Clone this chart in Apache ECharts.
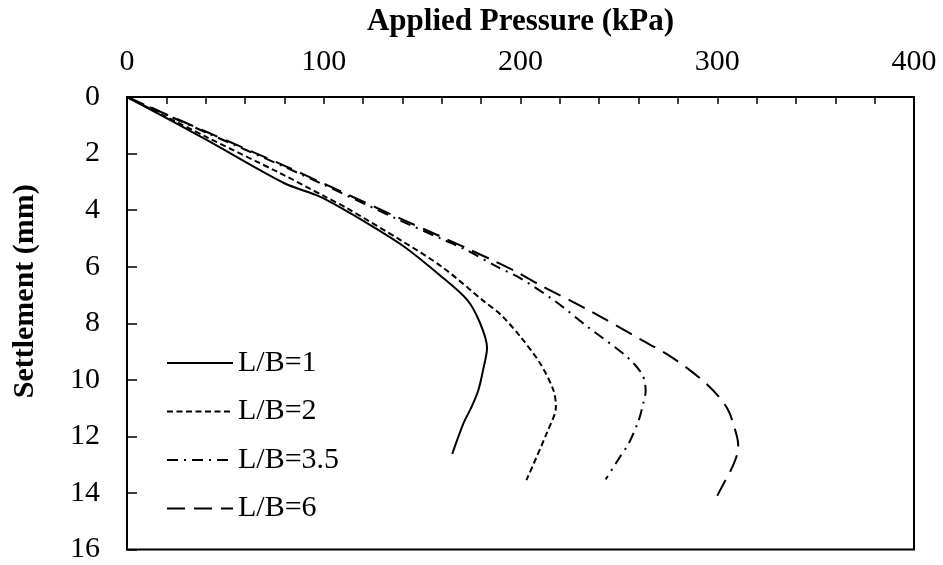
<!DOCTYPE html>
<html>
<head>
<meta charset="utf-8">
<script src="https://cdn.jsdelivr.net/npm/echarts@6/dist/echarts.min.js"></script>
<style>
html,body{margin:0;padding:0;background:#fff;}
#chart{width:943px;height:565px;}
</style>
</head>
<body>
<div id="chart"></div>
<script>
// Applied pressure (kPa) and settlement (mm) for each L/B ratio
var seriesNames = ['L/B=1', 'L/B=2', 'L/B=3.5', 'L/B=6'];

var pressure1 = [0, 40, 80, 98, 115, 140, 159, 173, 179.5, 183, 181, 178.6, 175.2, 171, 165.3];
var settle1   = [0, 1.5, 3.05, 3.52, 4.17, 5.25, 6.3, 7.18, 8.0, 8.87, 9.65, 10.36, 10.95, 11.54, 12.62];

var pressure2 = [0, 40, 78, 100, 112, 139, 160, 181, 190, 200, 210, 216.7, 218, 213.3, 203];
var settle2   = [0, 1.4, 2.7, 3.5, 3.94, 5.06, 6.0, 7.2, 7.7, 8.48, 9.42, 10.36, 10.95, 11.89, 13.55];

var pressure3 = [0, 40, 81, 98, 139, 159, 173, 188, 200, 218, 234, 254, 262, 263.6, 262.4, 260, 255, 250.6, 243.3];
var settle3   = [0, 1.25, 2.5, 3.04, 4.37, 4.99, 5.43, 6.0, 6.41, 7.24, 8.12, 9.18, 9.83, 10.4, 10.83, 11.45, 12.25, 12.72, 13.52];

var pressure4 = [0, 40, 81, 98, 139, 159, 173, 186, 197, 210, 235, 261, 277.7, 294.6, 305, 310, 310.7, 308.2, 303, 298];
var settle4   = [0, 1.22, 2.46, 3.0, 4.3, 4.92, 5.36, 5.78, 6.15, 6.65, 7.55, 8.57, 9.24, 10.15, 11.0, 12.0, 12.4, 13.0, 13.7, 14.37];

var xTicks = [0, 100, 200, 300, 400];
var yTicks = [0, 2, 4, 6, 8, 10, 12, 14, 16];

function pairs(xs, ys) {
  return xs.map(function (x, i) { return [x, ys[i]]; });
}

var FONT = 'Liberation Serif';
var chart = echarts.init(document.getElementById('chart'));

var dashTypes = ['solid', [6, 3.5], [11, 6, 2, 6], [18, 9]];
var datasets = [pairs(pressure1, settle1), pairs(pressure2, settle2), pairs(pressure3, settle3), pairs(pressure4, settle4)];

chart.setOption({
  animation: false,
  backgroundColor: '#fff',
  grid: {
    left: 127, right: 29, top: 97, bottom: 15.5,
    show: true, borderColor: '#000', borderWidth: 2, backgroundColor: 'transparent'
  },
  legend: {
    orient: 'vertical',
    left: 166, top: 348, padding: 0,
    itemWidth: 66, itemHeight: 20, itemGap: 18.5,
    data: seriesNames,
    itemStyle: { color: 'transparent', borderColor: 'transparent', borderWidth: 0, opacity: 0 },
    textStyle: { fontFamily: FONT, fontSize: 30, color: '#000', lineHeight: 30 }
  },
  xAxis: {
    type: 'value', position: 'top',
    min: xTicks[0], max: xTicks[xTicks.length - 1], interval: 100,
    name: 'Applied Pressure (kPa)', nameLocation: 'middle', nameGap: 60,
    nameTextStyle: { fontFamily: FONT, fontSize: 31, fontWeight: 'bold', color: '#000' },
    axisLine: { show: true, lineStyle: { color: '#000', width: 2 } },
    axisTick: { show: true, inside: true, length: 7, lineStyle: { color: '#000', width: 1.5 } },
    minorTick: { show: true, splitNumber: 5, length: 7, lineStyle: { color: '#000', width: 1.5 } },
    axisLabel: { fontFamily: FONT, fontSize: 30, color: '#000', margin: 20 },
    splitLine: { show: false }
  },
  yAxis: {
    type: 'value', inverse: true,
    min: yTicks[0], max: yTicks[yTicks.length - 1], interval: 2,
    name: 'Settlement (mm)', nameLocation: 'middle', nameGap: 87,
    nameTextStyle: { fontFamily: FONT, fontSize: 30, fontWeight: 'bold', color: '#000', padding: [0, 0, 0, 64] },
    axisLine: { show: true, lineStyle: { color: '#000', width: 2 } },
    axisTick: { show: true, inside: true, length: 10, lineStyle: { color: '#000', width: 1.5 } },
    axisLabel: { fontFamily: FONT, fontSize: 30, color: '#000', margin: 27 },
    splitLine: { show: false }
  },
  series: seriesNames.map(function (n, i) {
    return {
      name: n, type: 'line', data: datasets[i],
      showSymbol: false, symbol: 'none', smooth: 0.3,
      lineStyle: { color: '#000', width: 2, type: dashTypes[i] },
      itemStyle: { color: '#000' }
    };
  })
});
</script>
</body>
</html>
